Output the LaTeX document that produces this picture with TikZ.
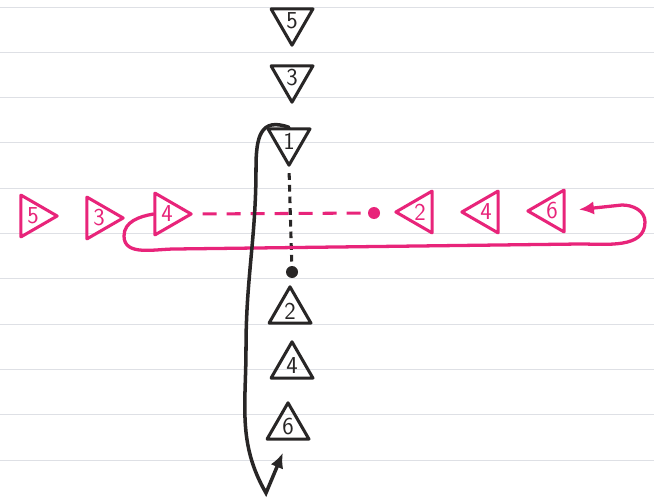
\documentclass[tikz,border=0pt]{standalone}
\usepackage{xcolor}
\usepackage{tikz}
\usetikzlibrary{shapes.geometric,arrows.meta}
\definecolor{PenPink}{RGB}{232,36,122}
\definecolor{PenBlack}{RGB}{40,38,38}
\definecolor{RuleLine}{RGB}{222,224,229}
\tikzset{
  marker/.style={regular polygon,regular polygon sides=3,draw,line width=2.6pt,
    line join=round,minimum size=1.45cm,inner sep=0pt,font=\huge\sffamily},
  pinkmark/.style={marker,draw=PenPink,text=PenPink},
  blackmark/.style={marker,draw=PenBlack,text=PenBlack},
  toright/.style={shape border rotate=-90},
  toleft/.style={shape border rotate=90},
  todown/.style={shape border rotate=180},
  spot/.style={circle,inner sep=0pt,minimum size=0.36cm},
  ruled/.style={RuleLine,line width=0.8pt},
  pinkloop/.style={PenPink,line width=2.8pt,line cap=round,
    -{Latex[length=0.45cm,width=0.4cm]}},
  blackloop/.style={PenBlack,line width=3pt,line cap=round,
    -{Latex[length=0.45cm,width=0.4cm]}},
}

\begin{document}
\begin{tikzpicture}[x=0.03cm,y=0.03cm]
    \fill[white] (0,0) rectangle (654,498);
    \useasboundingbox (0,0) rectangle (654,498);
    \foreach \k in {0,...,10}
      \draw[ruled] (0,{491-45.3*\k}) -- (654,{491-45.3*\k});

    \node[pinkmark,toright] (h5) at (33,282) {5};
    \node[pinkmark,toright] (h3) at (99,280) {3};
    \node[pinkmark,toright] (h4) at (167,284) {4};
    \node[spot,fill=PenPink] (hdot) at (374,285) {};
    \node[pinkmark,toleft] (h2) at (420,286) {2};
    \node[pinkmark,toleft] (h4r) at (486,286) {4};
    \node[pinkmark,toleft] (h6) at (552,287) {6};

    \node[blackmark,todown] (v5) at (292,477) {5};
    \node[blackmark,todown] (v3) at (292,420) {3};
    \node[blackmark,todown] (v1) at (289,357) {1};
    \node[spot,fill=PenBlack] (vdot) at (292,226) {};
    \node[blackmark] (v2) at (290,187) {2};
    \node[blackmark] (v4) at (292,132) {4};
    \node[blackmark] (v6) at (288,71) {6};

    \draw[PenPink,line width=2.6pt,dash pattern=on 0.42cm off 0.3cm,
      shorten <=0.25cm] (h4.east) -- (hdot);
    \draw[PenBlack,line width=2.6pt,dash pattern=on 0.2cm off 0.15cm,
      shorten <=0.15cm] (v1.south) -- (vdot);

    \draw[pinkloop,shorten >=0.4cm] (h4.west) to[out=190,in=90] (124,262)
      to[out=-90,in=180] (175,249) -- (580,254)
      to[out=0,in=-90] (645,276) to[out=90,in=0] (622,293) -- (h6.east);
    \draw[blackloop,shorten >=0.4cm] (v1.north) to[out=160,in=90,looseness=1.5] (256,330)
      to[out=-90,in=90] (246,150) to[out=-90,in=120] (266,5) -- (v6.south);
\end{tikzpicture}
\end{document}
